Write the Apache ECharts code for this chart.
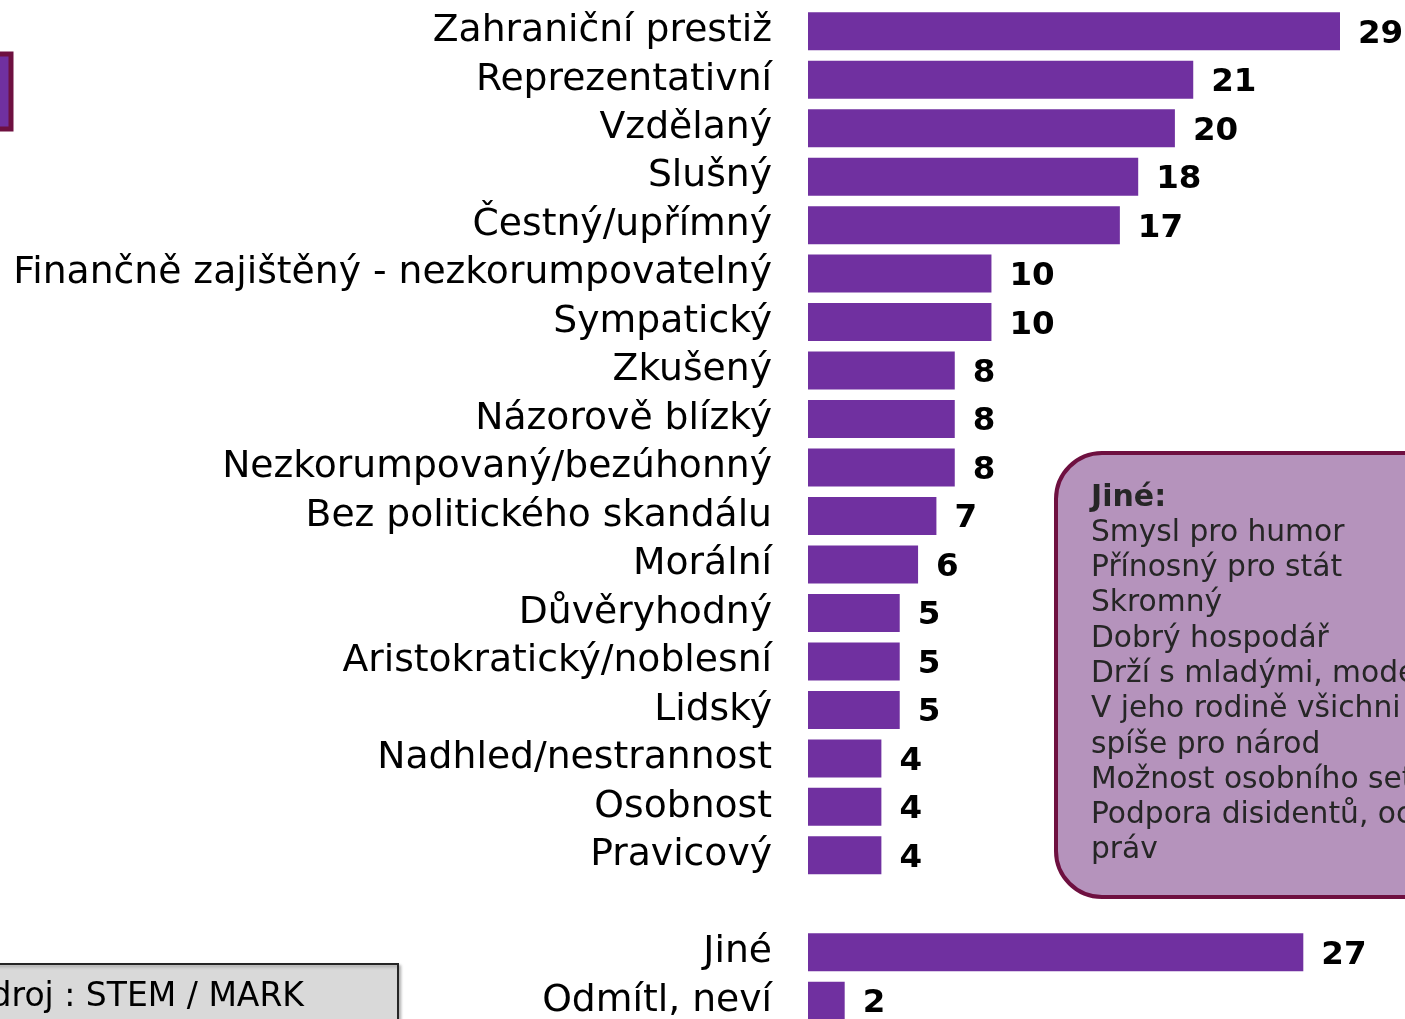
<!DOCTYPE html>
<html>
<head>
<meta charset="utf-8">
<script src="https://cdn.jsdelivr.net/npm/echarts@6/dist/echarts.min.js"></script>
<style>
  html, body { margin: 0; padding: 0; background: #fff; overflow: hidden; height: 1019px; }
  #chart { width: 1405px; height: 1026px; }
</style>
</head>
<body>
<div id="chart"></div>
<script>
// Vlastnosti ideálního prezidenta (%)
const categories = [
  'Zahraniční prestiž', 'Reprezentativní', 'Vzdělaný', 'Slušný', 'Čestný/upřímný',
  'Finančně zajištěný - nezkorumpovatelný', 'Sympatický', 'Zkušený', 'Názorově blízký',
  'Nezkorumpovaný/bezúhonný', 'Bez politického skandálu', 'Morální', 'Důvěryhodný',
  'Aristokratický/noblesní', 'Lidský', 'Nadhled/nestrannost', 'Osobnost', 'Pravicový',
  '', 'Jiné', 'Odmítl, neví'
];
const values = [29, 21, 20, 18, 17, 10, 10, 8, 8, 8, 7, 6, 5, 5, 5, 4, 4, 4, null, 27, 2];

const otherTitle = 'Jiné:';
const otherItems = [
  'Smysl pro humor',
  'Přínosný pro stát',
  'Skromný',
  'Dobrý hospodář',
  'Drží s mladými, moderní',
  'V jeho rodině všichni byli',
  'spíše pro národ',
  'Možnost osobního setkání',
  'Podpora disidentů, ochrana lidských',
  'práv'
];
const sourceText = 'Zdroj : STEM / MARK';

const FONT = '"DejaVu Sans", Verdana, sans-serif';
const BAR = '#7030a0';

const chart = echarts.init(document.getElementById('chart'), null, { renderer: 'canvas' });

chart.setOption({
  animation: false,
  backgroundColor: '#ffffff',
  grid: { left: 808, top: 7, width: 532, height: 1018, containLabel: false },
  xAxis: {
    type: 'value', min: 0, max: 29, show: false
  },
  yAxis: {
    type: 'category',
    data: categories,
    inverse: true,
    axisLine: { show: false },
    axisTick: { show: false },
    splitLine: { show: false },
    axisLabel: {
      interval: 0,
      margin: 36,
      fontFamily: FONT,
      fontSize: 37.7,
      color: '#000000',
      padding: [4, 0, 0, 0]
    }
  },
  series: [{
    type: 'bar',
    data: values,
    barWidth: 38,
    itemStyle: { color: BAR },
    label: {
      show: true,
      position: 'right',
      distance: 18,
      offset: [0, 3],
      fontFamily: FONT,
      fontWeight: 'bold',
      fontSize: 32.5,
      color: '#000000',
      formatter: p => (p.value == null ? '' : String(p.value))
    }
  }],
  graphic: [
    // legend swatch at the top-left edge
    {
      type: 'rect',
      shape: { x: -20, y: 54, width: 31, height: 75 },
      style: { fill: BAR, stroke: '#6e1040', lineWidth: 5 }
    },
    // source box
    {
      type: 'rect',
      shape: { x: -20, y: 964, width: 418, height: 80 },
      style: { fill: '#d9d9d9', stroke: '#262626', lineWidth: 2,
               shadowColor: 'rgba(0,0,0,0.25)', shadowBlur: 3, shadowOffsetX: 2, shadowOffsetY: 2 }
    },
    {
      type: 'text',
      style: {
        x: 304, y: 997, text: sourceText, align: 'right', verticalAlign: 'middle',
        font: '33px ' + FONT, fill: '#000000'
      }
    },
    // callout listing the "Jiné" answers
    {
      type: 'rect',
      shape: { x: 1056, y: 453, width: 420, height: 444, r: 46 },
      style: { fill: '#b593bc', stroke: '#6e1040', lineWidth: 4 }
    },
    {
      type: 'text',
      style: {
        x: 1091, y: 498, text: otherTitle, verticalAlign: 'middle',
        font: 'bold 30px ' + FONT, fill: '#262626'
      }
    },
    ...otherItems.map((t, i) => ({
      type: 'text',
      style: {
        x: 1091, y: 533 + i * 35.3, text: t, verticalAlign: 'middle',
        font: '29.7px ' + FONT, fill: '#262626'
      }
    }))
  ]
});
</script>
</body>
</html>
